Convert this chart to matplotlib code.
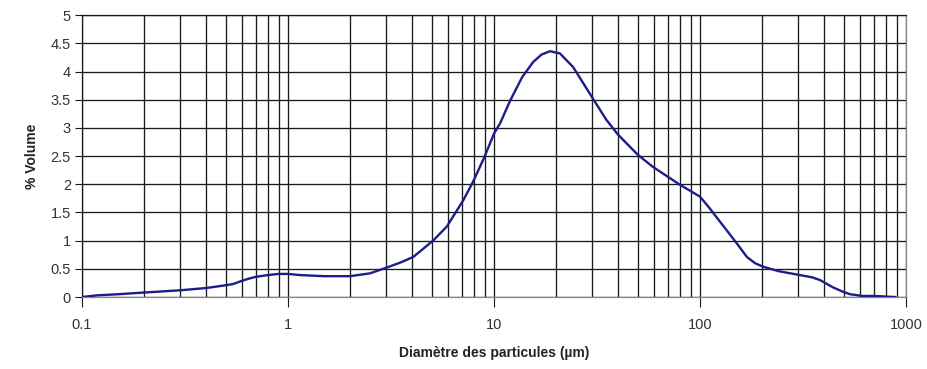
import numpy as np
import matplotlib.pyplot as plt
from matplotlib.ticker import LogLocator, FixedLocator, FuncFormatter

# Particle size distribution (volume %)
diametre = [0.1, 0.118, 0.15, 0.2, 0.3, 0.4, 0.48, 0.54, 0.6, 0.65, 0.7, 0.8,
            0.9, 1.0, 1.14, 1.5, 2.0, 2.5, 3.0, 3.5, 4.05, 5.06, 5.9, 7.1, 7.9,
            9.0, 10.0, 10.7, 12.0, 13.7, 15.5, 17.0, 18.7, 20.9, 24.2, 30.2,
            35.0, 40.0, 50.0, 59.0, 70.0, 80.0, 90.0, 100.0, 110.0, 120.0,
            135.0, 151.0, 169.0, 185.0, 202.0, 240.0, 305.0, 350.0, 383.0,
            443.0, 490.0, 535.0, 613.0, 700.0, 885.0]
volume = [0.0, 0.03, 0.05, 0.08, 0.12, 0.16, 0.2, 0.23, 0.29, 0.33, 0.36, 0.39,
          0.41, 0.41, 0.39, 0.37, 0.37, 0.42, 0.52, 0.61, 0.71, 1.0, 1.25,
          1.72, 2.04, 2.49, 2.9, 3.08, 3.49, 3.9, 4.17, 4.3, 4.36, 4.32, 4.08,
          3.52, 3.15, 2.88, 2.52, 2.31, 2.13, 1.99, 1.88, 1.78, 1.6, 1.42,
          1.18, 0.95, 0.71, 0.6, 0.54, 0.46, 0.39, 0.35, 0.3, 0.17, 0.1, 0.05,
          0.02, 0.02, 0.0]

x_ticks = [0.1, 1, 10, 100, 1000]
x_labels = ['0.1', '1', '10', '100', '1000']
y_ticks = np.arange(0, 5.01, 0.5)

plt.rcParams['font.family'] = ['Liberation Sans', 'DejaVu Sans']

fig = plt.figure(figsize=(9.28, 3.69), dpi=100)
ax = fig.add_axes([0.0884, 0.195, 0.8879, 0.764])

ax.plot(diametre, volume, color='#1c1c8a', lw=1.7, zorder=3,
        solid_joinstyle='round')

ax.set_xscale('log')
ax.set_xlim(0.1, 1000)
ax.set_ylim(0, 5)

# grid: every minor decade subdivision plus every 0.5 on y
grid_kw = dict(color='#1a1a1a', lw=0.95, zorder=1)
ax.xaxis.set_minor_locator(LogLocator(base=10, subs=np.arange(2, 10)))
ax.xaxis.set_major_locator(FixedLocator(x_ticks))
ax.set_xticklabels(x_labels)
ax.set_yticks(y_ticks)
ax.yaxis.set_major_formatter(FuncFormatter(lambda v, p: f'{v:g}'))
ax.grid(True, which='major', axis='both', **grid_kw)
ax.grid(True, which='minor', axis='x', **grid_kw)

ax.tick_params(axis='x', which='major', direction='out', length=7, width=0.8,
               color='#1a1a1a', labelsize=10.5, labelcolor='#333333', pad=8)
ax.tick_params(axis='x', which='minor', length=0)
ax.tick_params(axis='y', direction='out', length=5, width=0.8,
               color='#1a1a1a', labelsize=10.5, labelcolor='#333333', pad=3)

for side in ['top', 'left']:
    ax.spines[side].set_color('#1a1a1a')
    ax.spines[side].set_linewidth(0.9)
for side in ['bottom', 'right']:
    ax.spines[side].set_color('#888888')
    ax.spines[side].set_linewidth(0.9)

ax.set_xlabel('Diamètre des particules (µm)', fontsize=10, fontweight='bold',
              color='#222222', labelpad=10)
ax.set_ylabel('% Volume', fontsize=10, fontweight='bold', color='#222222',
              labelpad=8)

fig.savefig('out.png', dpi=100)
